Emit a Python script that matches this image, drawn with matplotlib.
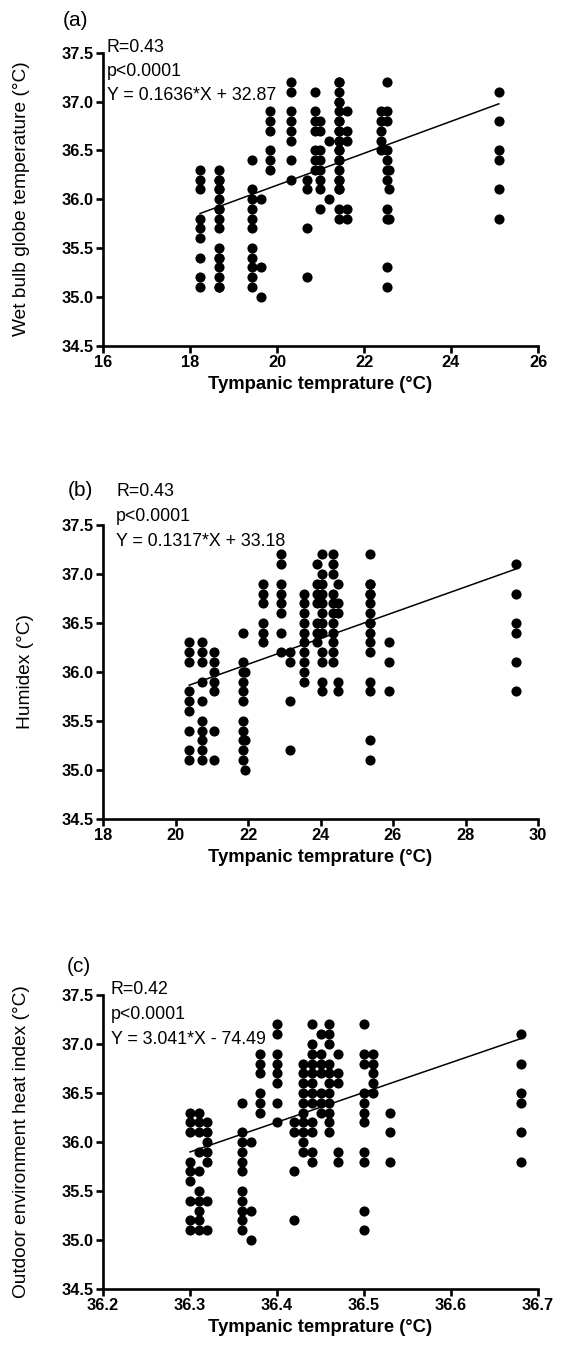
import matplotlib
matplotlib.use("Agg")
import matplotlib.pyplot as plt
import numpy as np

plt.rcParams['font.family'] = ['Liberation Sans', 'DejaVu Sans']

# Tympanic temperature values (°C) recorded on each measurement day (y values)
tympanic_groups = [
    [36.3, 36.2, 36.1, 35.8, 35.7, 35.6, 35.4, 35.2, 35.1],
    [36.3, 36.2, 36.1, 35.9, 35.7, 35.5, 35.4, 35.3, 35.2, 35.1],
    [36.2, 36.1, 36.0, 35.9, 35.8, 35.4, 35.1],
    [36.4, 36.1, 36.0, 35.9, 35.8, 35.7, 35.5, 35.4, 35.3, 35.2, 35.1],
    [36.0, 35.3, 35.0],
    [36.9, 36.8, 36.7, 36.5, 36.4, 36.3],
    [37.2, 37.1, 36.9, 36.8, 36.7, 36.6, 36.4, 36.2],
    [36.2, 36.1, 35.7, 35.2],
    [37.1, 36.9, 36.8, 36.7, 36.5, 36.4, 36.3],
    [36.8, 36.7, 36.5, 36.4, 36.3, 36.2, 36.1, 35.9],
    [36.6, 36.0],
    [37.2, 37.0, 36.9, 36.8, 36.7, 36.6, 36.5, 36.4, 36.2, 36.1, 35.9, 35.8],
    [37.2, 37.1, 37.0, 36.8, 36.7, 36.6, 36.5, 36.4, 36.3, 36.2, 36.1],
    [36.9, 36.7, 36.6, 35.9, 35.8],
    [36.9, 36.8, 36.7, 36.6, 36.5],
    [37.2, 36.9, 36.8, 36.5, 36.4, 36.3, 36.2, 35.9, 35.8, 35.3, 35.1],
    [36.3, 36.1, 35.8],
    [37.1, 36.8, 36.5, 36.4, 36.1, 35.8],
]

# Environmental index of each day (x values), one per group above
wbgt_x = [18.23, 18.67, 18.67, 19.43, 19.63, 19.84, 20.33, 20.68, 20.87, 20.99,
          21.20, 21.43, 21.43, 21.62, 22.38, 22.52, 22.57, 25.10]
humidex_x = [20.38, 20.72, 21.06, 21.87, 21.93, 22.40, 22.90, 23.16, 23.91, 23.54,
             23.54, 24.03, 24.35, 24.47, 25.37, 25.37, 25.90, 29.40]
heat_index_x = [36.30, 36.31, 36.32, 36.36, 36.37, 36.38, 36.40, 36.42, 36.45, 36.43,
                36.43, 36.44, 36.46, 36.47, 36.51, 36.50, 36.53, 36.68]

# Regression fits (slope, intercept) and stats
fit_slopes = [0.1636, 0.1317, 3.041]
fit_intercepts = [32.87, 33.18, -74.49]
stat_texts = [
    ["R=0.43", "p<0.0001", "Y = 0.1636*X + 32.87"],
    ["R=0.43", "p<0.0001", "Y = 0.1317*X + 33.18"],
    ["R=0.42", "p<0.0001", "Y = 3.041*X - 74.49"],
]
panel_labels = ["(a)", "(b)", "(c)"]
y_labels = ["Wet bulb globe temperature (°C)", "Humidex (°C)",
            "Outdoor environment heat index (°C)"]
x_label = "Tympanic temprature (°C)"
x_ticks_list = [[16, 18, 20, 22, 24, 26],
                [18, 20, 22, 24, 26, 28, 30],
                [36.2, 36.3, 36.4, 36.5, 36.6, 36.7]]
y_ticks = [34.5, 35.0, 35.5, 36.0, 36.5, 37.0, 37.5]

W, H = 566, 1361
fig = plt.figure(figsize=(W / 100, H / 100), dpi=100)

def fx(px):
    return px / W

def fy(py):
    return 1 - py / H

# axes pixel boxes: (top, bottom)
boxes = [(52.7, 345.5), (525.0, 818.7), (995.0, 1289.0)]
left_px, right_px = 103.0, 538.0
xs_all = [wbgt_x, humidex_x, heat_index_x]
panel_label_pos = [(76, 20), (80, 491), (79, 967)]
stat_pos = [(107, 47), (116, 492), (111, 990)]
xlabel_y = [384, 857, 1328]
ylabel_x = [22, 25, 22]

for i in range(3):
    top, bot = boxes[i]
    ax = fig.add_axes([fx(left_px), fy(bot), fx(right_px - left_px), (bot - top) / H])
    xt = x_ticks_list[i]
    xs = xs_all[i]
    for gx, gy in zip(xs, tympanic_groups):
        ax.plot([gx] * len(gy), gy, 'o', color='black', markersize=7.3,
                markeredgewidth=0, clip_on=False, zorder=3)
    allx = np.array(xs)
    lx = np.array([allx.min(), allx.max()])
    ax.plot(lx, fit_slopes[i] * lx + fit_intercepts[i], color='black', lw=1.1, zorder=2)
    ax.set_xlim(xt[0], xt[-1])
    ax.set_ylim(34.5, 37.5)
    ax.set_xticks(xt)
    if i == 2:
        ax.set_xticklabels([f"{v:.1f}" for v in xt])
    else:
        ax.set_xticklabels([str(v) for v in xt])
    ax.set_yticks(y_ticks)
    ax.set_yticklabels([f"{v:.1f}" for v in y_ticks])
    for s in ['top', 'right']:
        ax.spines[s].set_visible(False)
    for s in ['left', 'bottom']:
        ax.spines[s].set_linewidth(1.9)
    ax.tick_params(direction='out', length=4.8, width=1.9, labelsize=11.8, pad=2)
    for lab in ax.get_xticklabels() + ax.get_yticklabels():
        lab.set_fontweight('bold')
    ax.patch.set_alpha(0)

    fig.text(fx(panel_label_pos[i][0]), fy(panel_label_pos[i][1]), panel_labels[i],
             fontsize=15, ha='center', va='center')
    sx, sy = stat_pos[i]
    for k, t in enumerate(stat_texts[i]):
        fig.text(fx(sx), fy(sy + 24.5 * k), t, fontsize=12.8, ha='left', va='center')
    fig.text(fx((left_px + right_px) / 2), fy(xlabel_y[i]), x_label, fontsize=13.3,
             fontweight='bold', ha='center', va='center')
    fig.text(fx(ylabel_x[i]), fy((top + bot) / 2), y_labels[i], fontsize=13.8,
             rotation=90, ha='center', va='center')

fig.savefig("out.png", dpi=100, facecolor='white')
